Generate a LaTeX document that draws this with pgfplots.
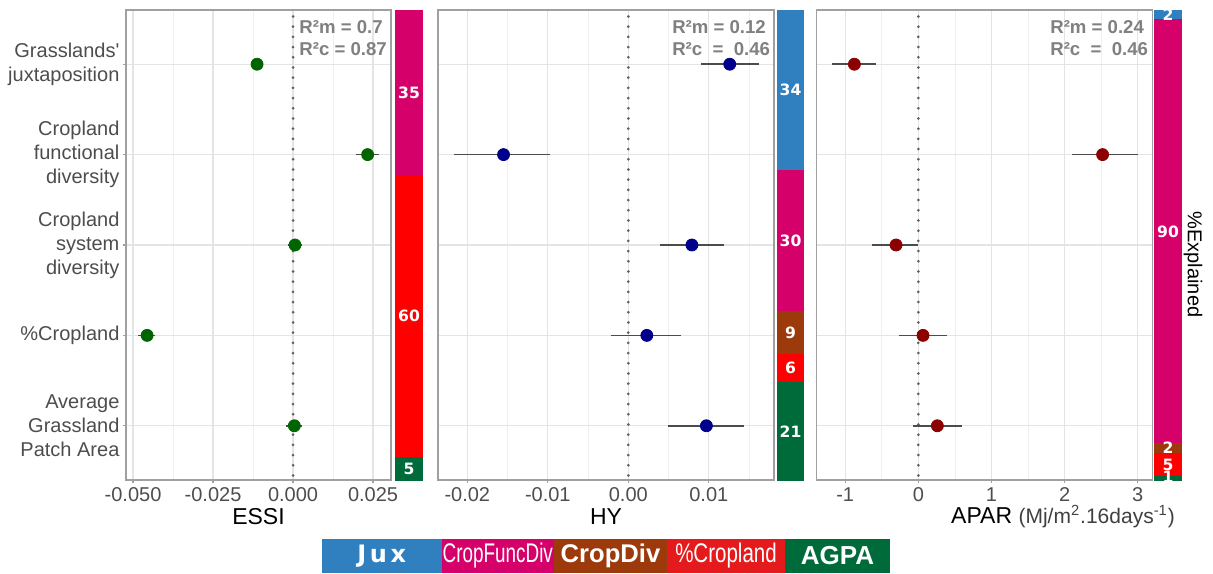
\documentclass[border=0pt]{standalone}
\usepackage{pgfplots}
\pgfplotsset{compat=1.18}
\usepackage{pgfplotstable}
\usepackage{graphicx}
\usepackage{fontspec}
\setmainfont{Liberation Sans}
\newfontfamily\dejavu{DejaVu Sans}

\definecolor{cJux}{HTML}{3080BF}
\definecolor{cFunc}{HTML}{D5006A}
\definecolor{cDiv}{HTML}{9C3A0C}
\definecolor{cCrop}{HTML}{FF0000}
\definecolor{cCropL}{HTML}{E41A1C}
\definecolor{cAGPA}{HTML}{006B3A}
\definecolor{tickgray}{HTML}{4D4D4D}
\definecolor{rgray}{HTML}{808080}
\definecolor{gridmaj}{HTML}{E4E4E4}
\definecolor{gridmin}{HTML}{EFEFEF}
\definecolor{framec}{HTML}{A0A0A0}
\definecolor{dkgreen}{HTML}{006400}
\definecolor{dknavy}{HTML}{00008B}
\definecolor{dkred}{HTML}{8B0000}

% effect estimates with interval ends (y: 5=Jux ... 1=AGPA)
\pgfplotstableread{
y est lo hi
5 -0.01125 -0.0131 -0.0094
4 0.0233 0.0197 0.0269
3 0.0006 -0.0017 0.0027
2 -0.0456 -0.0484 -0.0431
1 0.0004 -0.0022 0.0027
}\essi
\pgfplotstableread{
y est lo hi
5 0.0126 0.0090 0.0162
4 -0.0155 -0.0217 -0.0097
3 0.0079 0.0039 0.0119
2 0.0023 -0.0022 0.0066
1 0.0097 0.0049 0.0144
}\hy
\pgfplotstableread{
y est lo hi
5 -0.875 -1.185 -0.583
4 2.52 2.107 3.00
3 -0.305 -0.64 0.00
2 0.064 -0.27 0.39
1 0.26 -0.07 0.60
}\apar

\tikzset{rlab/.style={anchor=west, align=left, font=\bfseries\fontsize{9.3}{11}\selectfont, text=rgray, inner sep=0pt}}

\pgfplotsset{
 forest/.style={
  scale only axis, anchor=south west, height=235pt,
  ymin=0.4, ymax=5.6, ytick={1,2,3,4,5},
  scaled x ticks=false,
  axis line style={draw=framec, line width=0.7pt},
  tick align=outside, major tick length=1.6pt, minor tick length=0pt,
  tick style={draw=framec, line width=0.6pt},
  xtick pos=lower, ytick pos=lower,
  xmajorgrids, xminorgrids, ymajorgrids,
  major grid style={draw=gridmaj, line width=0.6pt},
  minor grid style={draw=gridmin, line width=0.4pt},
  xticklabel style={font=\fontsize{10}{12}\selectfont, text=tickgray, inner sep=2pt},
  yticklabel style={font=\fontsize{10}{12}\selectfont, text=tickgray, align=right, inner sep=1.5pt},
  xlabel style={font=\fontsize{11.5}{13}\selectfont, at={(axis description cs:0.5,0)}, anchor=center, yshift=-18.5pt},
  clip=false,
 },
 errb/.style={only marks, mark=none, error bars/.cd, x dir=both, x explicit, error mark=none,
   error bar style={line width=0.8pt, draw=black!70}},
 zeroline/.style={draw=black!62, line width=1.5pt, line cap=round, dash pattern=on 0pt off 5.1pt},
 barax/.style={scale only axis, anchor=south west, height=235.5pt, xmin=-0.5, xmax=0.5,
   ymin=0, ymax=100, hide axis, clip=false},
 barlab/.style={only marks, mark=none, nodes near coords, point meta=explicit symbolic,
   nodes near coords style={anchor=center, font=\dejavu\bfseries\fontsize{7.8}{9}\selectfont, text=white}},
}

\begin{document}
\begin{tikzpicture}
\useasboundingbox (0,0) rectangle (606.5pt,286.5pt);

% ---------------- Panel 1: ESSI ----------------
\begin{axis}[forest, at={(63pt,46.5pt)}, width=132.5pt,
  xmin=-0.0522, xmax=0.0306,
  xtick={-0.05,-0.025,0,0.025}, xticklabels={-0.050,-0.025,0.000,0.025},
  minor xtick={-0.0375,-0.0125,0.0125},
  yticklabels={{Average\\Grassland\\Patch Area}, {\%Cropland}, {Cropland\\system\\diversity}, {Cropland\\functional\\diversity}, {Grasslands\textquotesingle\\juxtaposition}},
  xlabel={ESSI}]
\addplot[zeroline] coordinates {(0,0.45) (0,5.6)};
\addplot[errb] table[x=est, y=y, x error plus expr=\thisrow{hi}-\thisrow{est}, x error minus expr=\thisrow{est}-\thisrow{lo}] {\essi};
\addplot[only marks, mark=*, mark size=3pt, mark options={fill=dkgreen, draw=dkgreen}] table[x=est, y=y] {\essi};
\node[rlab] at (rel axis cs:0.653,0.940) {R²m = 0.7\\R²c = 0.87};
\end{axis}

\begin{axis}[barax, at={(197.5pt,46pt)}, width=14pt, ybar stacked, bar width=1]
\addplot[fill=cAGPA, draw=none] coordinates {(0,5)};
\addplot[fill=cCrop, draw=none] coordinates {(0,60)};
\addplot[fill=cDiv, draw=none] coordinates {(0,0)};
\addplot[fill=cFunc, draw=none] coordinates {(0,35)};
\addplot[fill=cJux, draw=none] coordinates {(0,0)};
\end{axis}
\begin{axis}[barax, at={(197.5pt,46pt)}, width=14pt]
\addplot[barlab] coordinates {(0,2.5)[5] (0,35)[60] (0,82.5)[35]};
\end{axis}

% ---------------- Panel 2: HY ----------------
\begin{axis}[forest, at={(219pt,46.5pt)}, width=168pt,
  xmin=-0.02364, xmax=0.0181,
  xtick={-0.02,-0.01,0,0.01}, xticklabels={-0.02,-0.01,0.00,0.01},
  minor xtick={-0.015,-0.005,0.005,0.015},
  yticklabels={}, ytick style={draw=none},
  xlabel={HY}]
\addplot[zeroline] coordinates {(0,0.45) (0,5.6)};
\addplot[errb] table[x=est, y=y, x error plus expr=\thisrow{hi}-\thisrow{est}, x error minus expr=\thisrow{est}-\thisrow{lo}] {\hy};
\addplot[only marks, mark=*, mark size=3pt, mark options={fill=dknavy, draw=dknavy}] table[x=est, y=y] {\hy};
\node[rlab] at (rel axis cs:0.696,0.940) {R²m = 0.12\\R²c~~=~~0.46};
\end{axis}

\begin{axis}[barax, at={(388.5pt,46pt)}, width=13.5pt, ybar stacked, bar width=1]
\addplot[fill=cAGPA, draw=none] coordinates {(0,21)};
\addplot[fill=cCrop, draw=none] coordinates {(0,6)};
\addplot[fill=cDiv, draw=none] coordinates {(0,9)};
\addplot[fill=cFunc, draw=none] coordinates {(0,30)};
\addplot[fill=cJux, draw=none] coordinates {(0,34)};
\end{axis}
\begin{axis}[barax, at={(388.5pt,46pt)}, width=13.5pt]
\addplot[barlab] coordinates {(0,10.5)[21] (0,24)[6] (0,31.5)[9] (0,51)[30] (0,83)[34]};
\end{axis}

% ---------------- Panel 3: APAR ----------------
\begin{axis}[forest, at={(408.35pt,46.5pt)}, width=167.8pt,
  xmin=-1.39, xmax=3.20,
  xtick={-1,0,1,2,3}, xticklabels={-1,0,1,2,3},
  minor xtick={-0.5,0.5,1.5,2.5},
  yticklabels={}, ytick style={draw=none},
  xlabel={APAR {\fontsize{10.5}{12}\selectfont\color{black!75}(Mj/m\textsuperscript{2}.16days\textsuperscript{-1})}},
  xlabel style={at={(axis description cs:0.734,0)}}]
\addplot[zeroline] coordinates {(0,0.45) (0,5.6)};
\addplot[errb] table[x=est, y=y, x error plus expr=\thisrow{hi}-\thisrow{est}, x error minus expr=\thisrow{est}-\thisrow{lo}] {\apar};
\addplot[only marks, mark=*, mark size=3pt, mark options={fill=dkred, draw=dkred}] table[x=est, y=y] {\apar};
\node[rlab] at (rel axis cs:0.695,0.940) {R²m = 0.24\\R²c~~=~~0.46};
\end{axis}

\begin{axis}[barax, at={(577pt,46pt)}, width=14pt, ybar stacked, bar width=1]
\addplot[fill=cAGPA, draw=none] coordinates {(0,1)};
\addplot[fill=cCrop, draw=none] coordinates {(0,5)};
\addplot[fill=cDiv, draw=none] coordinates {(0,2)};
\addplot[fill=cFunc, draw=none] coordinates {(0,90)};
\addplot[fill=cJux, draw=none] coordinates {(0,2)};
\end{axis}
\begin{axis}[barax, at={(577pt,46pt)}, width=14pt]
\addplot[barlab] coordinates {(0,0.8)[1] (0,3.5)[5] (0,7)[2] (0,53)[90] (0,99)[2]};
\end{axis}

\node[rotate=-90, font=\fontsize{10}{12}\selectfont] at (596.5pt,154.25pt) {\%Explained};

% ---------------- Legend ----------------
\fill[cJux] (161pt,0) rectangle (220.75pt,17pt);
\fill[cFunc] (220.75pt,0) rectangle (277pt,17pt);
\fill[cDiv] (277pt,0) rectangle (333.5pt,17pt);
\fill[cCropL] (333.5pt,0) rectangle (392.5pt,17pt);
\fill[cAGPA] (392.5pt,0) rectangle (445pt,17pt);
\node[text=white, font=\dejavu\bfseries\fontsize{12}{14}\selectfont] at (190.9pt,8.5pt) {J\kern1.8pt u\kern1.8pt x};
\node[text=white, font=\fontsize{13.5}{15}\selectfont] at (248.9pt,8.5pt) {\scalebox{0.7}[1]{CropFuncDiv}};
\node[text=white, font=\bfseries\fontsize{12.8}{15}\selectfont] at (305.25pt,8.5pt) {CropDiv};
\node[text=white, font=\fontsize{13.5}{15}\selectfont] at (363pt,8.5pt) {\scalebox{0.76}[1]{\%Cropland}};
\node[text=white, font=\bfseries\fontsize{13}{15}\selectfont] at (418.75pt,8.5pt) {AGPA};
\end{tikzpicture}
\end{document}
